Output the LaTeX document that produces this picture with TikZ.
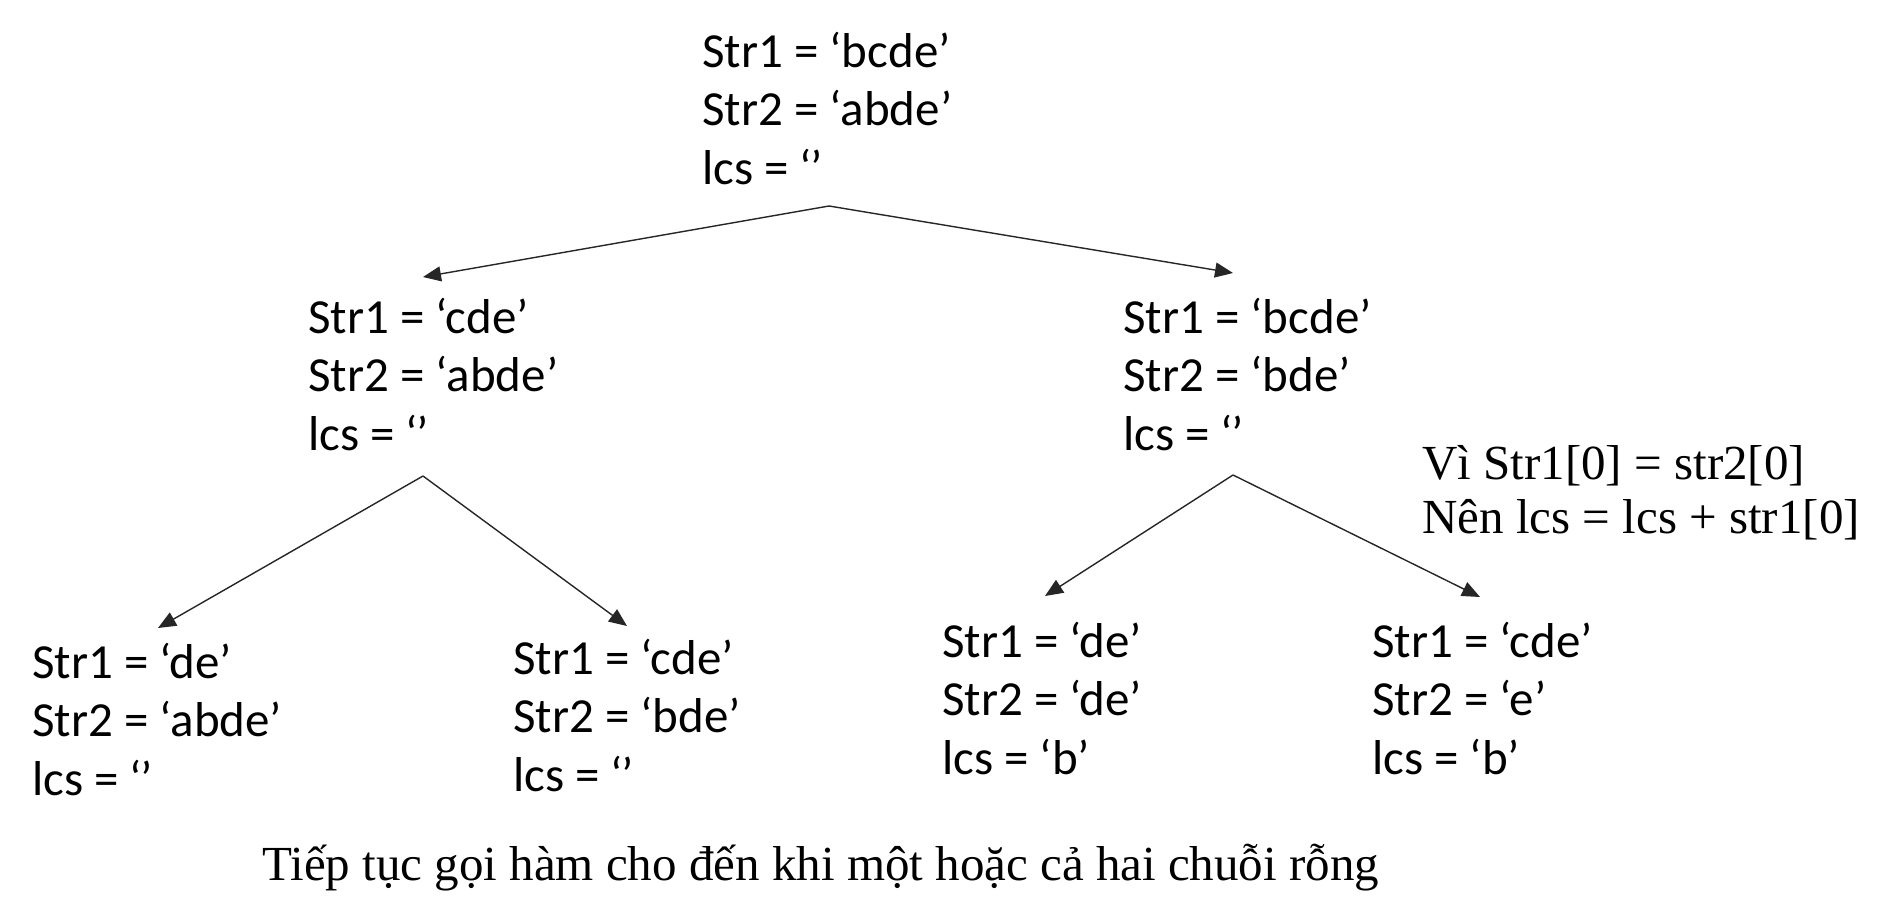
\documentclass[tikz,border=0pt]{standalone}
\usepackage{fontspec}
\setmainfont{Liberation Serif}
\newfontfamily\calibri{Carlito}
\newcommand{\emptystr}{‘\kern-2pt’}
\usetikzlibrary{arrows.meta,positioning}

\begin{document}
\begin{tikzpicture}
	[x=1pt,y=-1pt,
	state/.style={align=left,inner sep=0pt,anchor=base west,font=\calibri\fontsize{49}{58.5}\selectfont},
	note/.style={align=left,inner sep=0pt,anchor=base west,font=\fontsize{49}{54}\selectfont},
	call/.style={-{Triangle[length=18pt,width=15pt]},line width=1.4pt,draw=black!85},
	]
	\useasboundingbox (0,0) rectangle (1892,918);
	\node (root) [state] at (702,184) {Str1 = ‘bcde’\\Str2 = ‘abde’\\lcs = \emptystr};
	\node (l) [state] at (308,450) {Str1 = ‘cde’\\Str2 = ‘abde’\\lcs = \emptystr};
	\node (r) [state] at (1123,450) {Str1 = ‘bcde’\\Str2 = ‘bde’\\lcs = \emptystr};
	\node (ll) [state] at (32,795) {Str1 = ‘de’\\Str2 = ‘abde’\\lcs = \emptystr};
	\node (lr) [state] at (513,791) {Str1 = ‘cde’\\Str2 = ‘bde’\\lcs = \emptystr};
	\node (rl) [state] at (942,774) {Str1 = ‘de’\\Str2 = ‘de’\\lcs = ‘b’};
	\node (rr) [state] at (1372,774) {Str1 = ‘cde’\\Str2 = ‘e’\\lcs = ‘b’};
	\node (reason) [note] at (1422,533) {Vì Str1[0] = str2[0]\\Nên lcs = lcs + str1[0]};
	\node (caption) [note] at (262,880) {Tiếp tục gọi hàm cho đến khi một hoặc cả hai chuỗi rỗng};
	\coordinate (root-out) at (829,206);
	\coordinate (l-in) at (423,277);
	\coordinate (r-in) at (1233,273);
	\coordinate (l-out) at (423,476);
	\coordinate (ll-in) at (158,628);
	\coordinate (lr-in) at (627,626);
	\coordinate (r-out) at (1233,475);
	\coordinate (rl-in) at (1045,596);
	\coordinate (rr-in) at (1480,597);
	\draw[call] (root-out) -- (l-in);
	\draw[call] (root-out) -- (r-in);
	\draw[call] (l-out) -- (ll-in);
	\draw[call] (l-out) -- (lr-in);
	\draw[call] (r-out) -- (rl-in);
	\draw[call] (r-out) -- (rr-in);
\end{tikzpicture}
\end{document}
